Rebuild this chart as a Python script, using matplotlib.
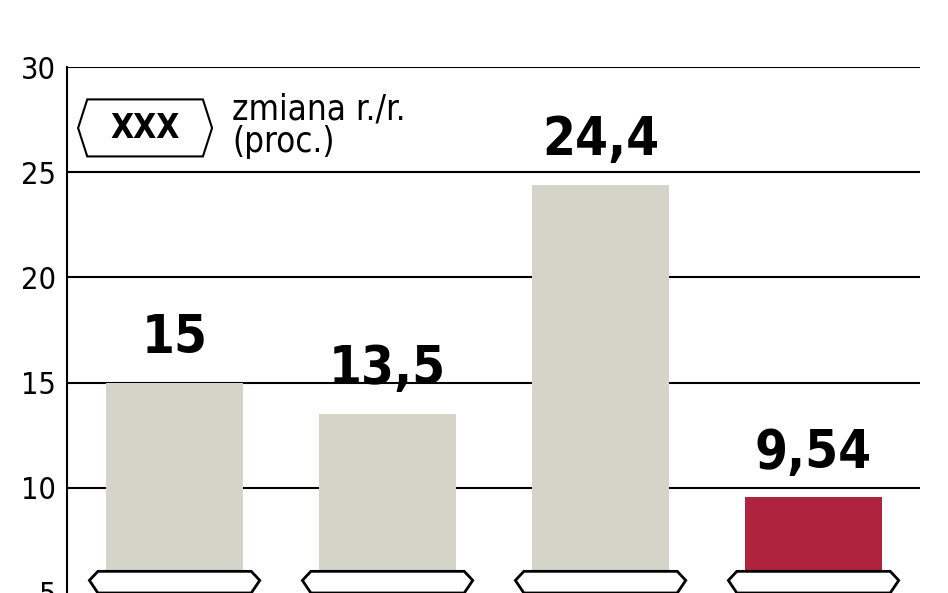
import matplotlib.pyplot as plt
from matplotlib.patches import Polygon

values = [15, 13.5, 24.4, 9.54]
labels = ["15", "13,5", "24,4", "9,54"]
colors = ["#d4d4c8", "#d4d4c8", "#d4d4c8", "#b0233f"]
yticks = [5, 10, 15, 20, 25, 30]

plt.rcParams['font.family'] = ['DejaVu Sans']
plt.rcParams['font.stretch'] = 'condensed'

fig = plt.figure(figsize=(9.48, 5.93), dpi=100)
ax = fig.add_axes([0.0707, 0.0, 0.8998, 0.887])
ax.set_xlim(-0.505, 3.5)
ax.set_ylim(5.42, 30)

for y in yticks[1:]:
    ax.axhline(y, color="black", lw=1.5, zorder=1)

x = range(len(values))
ax.bar(x, values, width=0.643, color=colors, zorder=2)
for i, (v, t) in enumerate(zip(values, labels)):
    ax.text(i, v + 0.9, t, ha="center", va="bottom", fontsize=38,
            fontweight="bold", stretch="condensed", zorder=3)
    # category label boxes (cut off at the bottom)
    hx = [i - 0.4, i - 0.36, i + 0.36, i + 0.4, i + 0.36, i - 0.36]
    hy = [5.6, 6.03, 6.03, 5.6, 5.0, 5.0]
    ax.add_patch(Polygon(list(zip(hx, hy)), closed=True, facecolor="white",
                         edgecolor="black", lw=2, zorder=4))

# legend
lx = [-0.453, -0.41, 0.133, 0.176, 0.133, -0.41]
ly = [27.1, 28.46, 28.46, 27.1, 25.75, 25.75]
ax.add_patch(Polygon(list(zip(lx, ly)), closed=True, facecolor="white",
                     edgecolor="black", lw=1.5, zorder=4))
ax.text(-0.14, 27.1, "XXX", ha="center", va="center", fontsize=24,
        fontweight="bold", zorder=5)
ax.text(0.27, 27.2, "zmiana r./r.\n(proc.)", ha="left", va="center",
        fontsize=25, linespacing=0.95, zorder=5)

ax.set_yticks(yticks)
ax.tick_params(axis="y", length=0, labelsize=22, pad=8)
ax.set_xticks([])
for s in ["top", "right", "bottom"]:
    ax.spines[s].set_visible(False)
ax.spines["left"].set_linewidth(1.5)

fig.savefig("out.png", dpi=100)
